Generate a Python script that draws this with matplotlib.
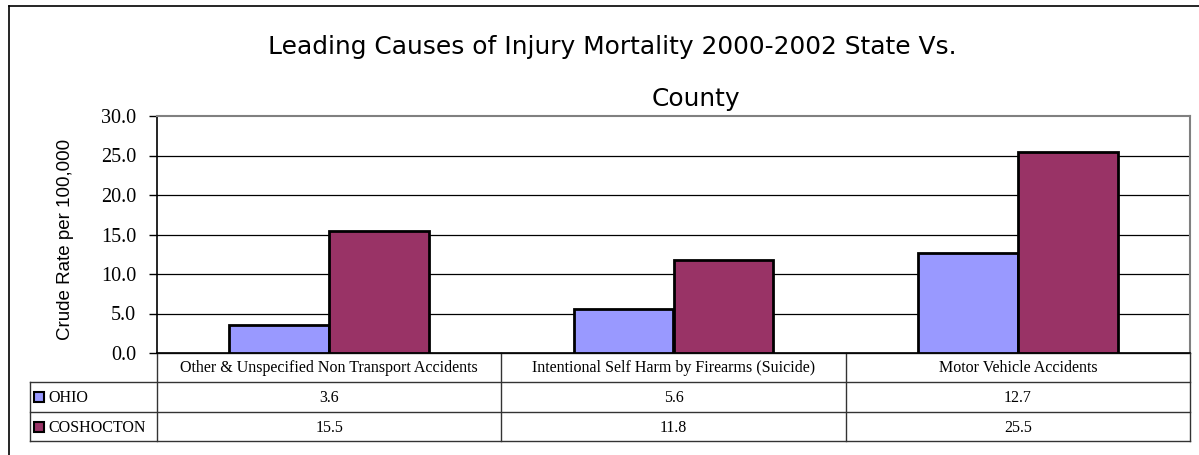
import matplotlib
matplotlib.use("Agg")
import matplotlib.pyplot as plt
from matplotlib.transforms import blended_transform_factory
from matplotlib.patches import Rectangle
from matplotlib.lines import Line2D

categories = [
    "Other & Unspecified Non Transport Accidents",
    "Intentional Self Harm by Firearms (Suicide)",
    "Motor Vehicle Accidents",
]
series_names = ["OHIO", "COSHOCTON"]
ohio = [3.6, 5.6, 12.7]
coshocton = [15.5, 11.8, 25.5]
series_values = [ohio, coshocton]
series_colors = ["#9999FF", "#993366"]
yticks = [0, 5, 10, 15, 20, 25, 30]

W, H = 1199, 455
fig = plt.figure(figsize=(W / 100, H / 100), dpi=100)

# pixel-space overlay for frame, title and data table
over = fig.add_axes([0, 0, 1, 1])
over.set_xlim(0, W)
over.set_ylim(H, 0)
over.axis("off")

# chart border
over.add_line(Line2D([9, 9], [6, H + 5], color="black", lw=1.2))
over.add_line(Line2D([9, W + 5], [6, 6], color="black", lw=1.2))

# plot area in pixels
L, R, T, B = 157, 1190, 116, 353
ax = fig.add_axes([L / W, 1 - B / H, (R - L) / W, (B - T) / H])
ax.set_zorder(2)
ax.patch.set_alpha(0)

n = len(categories)
x = list(range(n))
bw = 0.29
offsets = [-bw / 2, bw / 2]
for vals, off, col in zip(series_values, offsets, series_colors):
    ax.bar([xi + off for xi in x], vals, width=bw, color=col,
           edgecolor="black", linewidth=2, zorder=3)

ax.set_xlim(-0.5, n - 0.5)
ax.set_ylim(0, 30)
ax.set_yticks(yticks)
ax.set_yticklabels([f"{v:.1f}" for v in yticks], family="Liberation Serif",
                   fontsize=14.5)
ax.set_xticks([])
for v in yticks[1:-1]:
    ax.axhline(v, color="black", lw=0.9, zorder=1)
ax.tick_params(axis="y", length=6, width=1, color="black", pad=9)
ax.spines["left"].set_color("black")
ax.spines["left"].set_linewidth(1.2)
ax.spines["bottom"].set_color("black")
ax.spines["bottom"].set_linewidth(1.2)
ax.spines["top"].set_color("#808080")
ax.spines["top"].set_linewidth(1.5)
ax.spines["right"].set_color("#808080")
ax.spines["right"].set_linewidth(1.5)

# axis title
over.text(65, 239, "Crude Rate per 100,000", rotation=90, ha="center",
          va="center", family="Liberation Sans", fontsize=13.5)

# title
over.text(612, 47, "Leading Causes of Injury Mortality 2000-2002 State Vs.",
          ha="center", va="center", family="DejaVu Sans", fontsize=17.9)
over.text(696, 99, "County", ha="center", va="center",
          family="DejaVu Sans", fontsize=17.9)

# data table below the axis, columns aligned to the category slots
tr = blended_transform_factory(ax.transData, over.transData)
row_y = [353, 382, 412, 441]
tl = 30
lc = "#333333"
for yy in row_y[1:]:
    over.add_line(Line2D([tl, R], [yy, yy], color=lc, lw=1.0))
over.add_line(Line2D([L, R], [row_y[0], row_y[0]], color=lc, lw=1.0))
over.add_line(Line2D([tl, tl], [row_y[1], row_y[3]], color=lc, lw=1.0))
for b in range(n + 1):
    ln = Line2D([b - 0.5, b - 0.5], [row_y[0], row_y[3]], color=lc, lw=1.0,
                transform=tr)
    over.add_line(ln)

fs = 11.5
for i, cat in enumerate(categories):
    over.text(i, (row_y[0] + row_y[1]) / 2 + 1, cat, transform=tr,
              ha="center", va="center", family="Liberation Serif",
              fontsize=fs)
for r, (name, vals, col) in enumerate(zip(series_names, series_values,
                                          series_colors)):
    yc = (row_y[r + 1] + row_y[r + 2]) / 2
    over.add_patch(Rectangle((34, yc - 5), 10, 10, facecolor=col,
                             edgecolor="black", lw=1.5))
    over.text(48, yc + 1, name, ha="left", va="center",
              family="Liberation Serif", fontsize=fs)
    for i, v in enumerate(vals):
        over.text(i, yc + 1, f"{v:.1f}", transform=tr, ha="center",
                  va="center", family="Liberation Serif", fontsize=fs)

fig.savefig("out.png", dpi=100)
